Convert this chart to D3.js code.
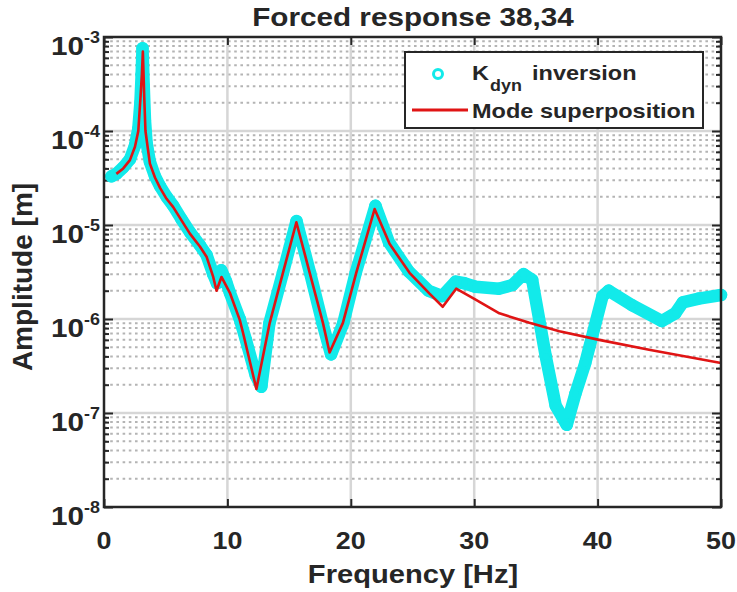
<!DOCTYPE html>
<html><head><meta charset="utf-8">
<script src="https://cdn.jsdelivr.net/npm/d3@7"></script>
<style>
body{margin:0;background:#fff}
text{font-family:"Liberation Sans",Arial,sans-serif;font-weight:bold;fill:#262626}
</style>
</head><body><svg id="c" width="737" height="592"></svg>
<script>
const titleText = "Forced response 38,34";
const xLabelText = "Frequency [Hz]";
const yLabelText = "Amplitude [m]";
const xTickValues = [0, 10, 20, 30, 40, 50];
const yTickExponents = [-8, -7, -6, -5, -4, -3];
const legendNames = ["inversion", "Mode superposition"];

// K_dyn inversion (markers)
const kdynFreq = [0.6, 1.0, 1.56, 2.1, 2.51, 2.78, 2.95, 3.05, 3.12, 3.22, 3.32, 3.45, 3.72, 4.13, 4.53, 5.07, 5.61, 6.28, 6.96, 7.77, 8.31, 8.85, 9.15, 9.5, 9.9, 10.2, 11.0, 11.5, 12.3, 12.75, 13.4, 14.5, 15.6, 16.7, 17.7, 18.4, 19.4, 20.4, 22.0, 23.1, 24.7, 26.3, 27.4, 28.5, 29.2, 30.1, 32.0, 33.1, 34.0, 34.7, 35.8, 36.6, 37.5, 38.2, 39.0, 40.4, 40.9, 42.8, 45.2, 46.3, 46.9, 48.2, 50.0];
const kdynAmp  = [3.3e-5, 3.5e-5, 4.1e-5, 5.0e-5, 7.0e-5, 1.05e-4, 2.0e-4, 4.0e-4, 7.6e-4, 3.0e-4, 1.3e-4, 7.5e-5, 4.7e-5, 3.3e-5, 2.6e-5, 2.0e-5, 1.6e-5, 1.15e-5, 8.4e-6, 6.1e-6, 4.8e-6, 3.0e-6, 2.4e-6, 3.3e-6, 2.5e-6, 1.9e-6, 1.0e-6, 6.0e-7, 2.5e-7, 1.9e-7, 9.0e-7, 3.1e-6, 1.1e-5, 3.1e-6, 9.1e-7, 4.2e-7, 9.1e-7, 3.1e-6, 1.6e-5, 6.5e-6, 3.2e-6, 2.0e-6, 1.75e-6, 2.5e-6, 2.4e-6, 2.2e-6, 2.1e-6, 2.3e-6, 3.0e-6, 2.6e-6, 4.0e-7, 1.2e-7, 7.5e-8, 1.6e-7, 3.4e-7, 1.75e-6, 2.0e-6, 1.4e-6, 9.5e-7, 1.15e-6, 1.5e-6, 1.65e-6, 1.8e-6];

// Mode superposition (line)
const modeFreq = [1.0, 1.56, 2.1, 2.51, 2.78, 2.95, 3.07, 3.15, 3.26, 3.36, 3.72, 4.13, 4.53, 5.07, 5.61, 6.28, 6.96, 7.77, 8.31, 8.85, 9.12, 9.52, 10.2, 11.0, 11.27, 12.35, 13.43, 14.5, 15.59, 16.67, 17.74, 18.28, 19.36, 20.44, 21.93, 23.14, 24.76, 26.38, 27.45, 28.54, 30.15, 32.04, 34.47, 36.9, 40.13, 44.17, 50.0];
const modeAmp  = [3.5e-5, 4.0e-5, 4.9e-5, 6.8e-5, 1.0e-4, 2.2e-4, 4.0e-4, 7.0e-4, 2.3e-4, 1.0e-4, 4.5e-5, 3.2e-5, 2.5e-5, 1.9e-5, 1.55e-5, 1.12e-5, 8.1e-6, 5.9e-6, 4.6e-6, 2.8e-6, 2.0e-6, 2.8e-6, 1.9e-6, 9.8e-7, 7.1e-7, 1.8e-7, 9.1e-7, 3.1e-6, 1.07e-5, 3.1e-6, 9.1e-7, 4.4e-7, 9.1e-7, 3.1e-6, 1.48e-5, 6.3e-6, 3.1e-6, 1.86e-6, 1.35e-6, 2.1e-6, 1.6e-6, 1.15e-6, 9.1e-7, 7.4e-7, 6.0e-7, 4.7e-7, 3.4e-7];

const svg = d3.select("#c");
const L = 104, R = 721, T = 37, B = 507;
const S = 1.12; // horizontal glyph stretch
const dark = "#262626";
const cyan = "#12eaea";
const red = "#e01414";

const x = d3.scaleLinear().domain([0, 50]).range([L, R]);
const y = d3.scaleLog().domain([1e-8, 1e-3]).range([B, T]);

function stext(px, py, str, size, anchor, sx, rot) {
  const g = svg.append("g").attr("transform", `translate(${px},${py}) scale(${sx},1)` + (rot ? ` rotate(${rot})` : ""));
  return g.append("text").attr("font-size", size).attr("text-anchor", anchor || "start").text(str);
}

// grids
const minorVals = [];
for (let e = -8; e < -3; e++) for (let k = 2; k <= 9; k++) minorVals.push(k * Math.pow(10, e));
svg.append("g").selectAll("line").data(minorVals).join("line")
  .attr("x1", L).attr("x2", R).attr("y1", d => y(d)).attr("y2", d => y(d))
  .attr("stroke", "#b4b4b4").attr("stroke-width", 2).attr("stroke-dasharray", "2.6,3.6");
svg.append("g").selectAll("line").data(yTickExponents.slice(1, -1)).join("line")
  .attr("x1", L).attr("x2", R).attr("y1", d => y(Math.pow(10, d))).attr("y2", d => y(Math.pow(10, d)))
  .attr("stroke", "#d6d6d6").attr("stroke-width", 2.5);
svg.append("g").selectAll("line").data(xTickValues.slice(1, -1)).join("line")
  .attr("y1", T).attr("y2", B).attr("x1", d => x(d)).attr("x2", d => x(d))
  .attr("stroke", "#d6d6d6").attr("stroke-width", 2.5);

// axes via d3 axis generators (inward ticks)
const yMajor = yTickExponents.map(e => Math.pow(10, e));
const axisStyle = g => { g.select(".domain").remove(); g.selectAll("line").attr("stroke", dark).attr("stroke-width", 2); g.selectAll("text").remove(); };
svg.append("g").attr("transform", `translate(${L},0)`).call(d3.axisRight(y).tickValues(yMajor).tickSize(9)).call(axisStyle);
svg.append("g").attr("transform", `translate(${L},0)`).call(d3.axisRight(y).tickValues(minorVals).tickSize(5)).call(axisStyle);
svg.append("g").attr("transform", `translate(${R},0)`).call(d3.axisLeft(y).tickValues(yMajor).tickSize(9)).call(axisStyle);
svg.append("g").attr("transform", `translate(${R},0)`).call(d3.axisLeft(y).tickValues(minorVals).tickSize(5)).call(axisStyle);
svg.append("g").attr("transform", `translate(0,${B})`).call(d3.axisTop(x).tickValues(xTickValues).tickSize(8)).call(axisStyle);
svg.append("g").attr("transform", `translate(0,${T})`).call(d3.axisBottom(x).tickValues(xTickValues).tickSize(8)).call(axisStyle);

// data
const kd = kdynFreq.map((f, i) => [f, kdynAmp[i]]);
const md = modeFreq.map((f, i) => [f, modeAmp[i]]);
const line = d3.line().x(d => x(d[0])).y(d => y(d[1]));
svg.append("path").attr("d", line(kd)).attr("fill", "none").attr("stroke", cyan)
  .attr("stroke-width", 12.5).attr("stroke-linejoin", "round").attr("stroke-linecap", "round");
svg.append("g").selectAll("circle").data(kd).join("circle")
  .attr("cx", d => x(d[0])).attr("cy", d => y(d[1])).attr("r", 4.8)
  .attr("fill", "none").attr("stroke", cyan).attr("stroke-width", 2.8);
svg.append("path").attr("d", line(md)).attr("fill", "none").attr("stroke", red)
  .attr("stroke-width", 2.6).attr("stroke-linejoin", "round");

// box
svg.append("rect").attr("x", L).attr("y", T).attr("width", R - L).attr("height", B - T)
  .attr("fill", "none").attr("stroke", dark).attr("stroke-width", 2.5);

// tick labels
xTickValues.forEach(v => stext(x(v), 549, String(v), 24, "middle", S));
yTickExponents.forEach(e => {
  const py = y(Math.pow(10, e));
  const g = svg.append("g").attr("transform", `translate(100,${py + 18}) scale(${S},1)`);
  const t = g.append("text").attr("font-size", 26.5).attr("text-anchor", "end");
  t.append("tspan").text("10");
  t.append("tspan").attr("dy", -12).attr("font-size", 16).text(String(e));
});

// labels
stext(413, 26, titleText, 26.5, "middle", S);
stext(413, 583, xLabelText, 26, "middle", S);
stext(32, 277, yLabelText, 28, "middle", 1, -90);

// legend
svg.append("rect").attr("x", 405).attr("y", 52).attr("width", 298).attr("height", 76)
  .attr("fill", "#fff").attr("stroke", dark).attr("stroke-width", 2);
svg.append("circle").attr("cx", 438).attr("cy", 74).attr("r", 4.5).attr("fill", "none").attr("stroke", cyan).attr("stroke-width", 3);
svg.append("line").attr("x1", 412).attr("x2", 468).attr("y1", 110).attr("y2", 110).attr("stroke", red).attr("stroke-width", 3);
stext(472, 80, "K", 21, "start", S);
stext(490, 91, "dyn", 16, "start", S);
stext(532, 80, legendNames[0], 21, "start", S);
stext(472, 118, legendNames[1], 21, "start", S);
</script>
</body></html>
